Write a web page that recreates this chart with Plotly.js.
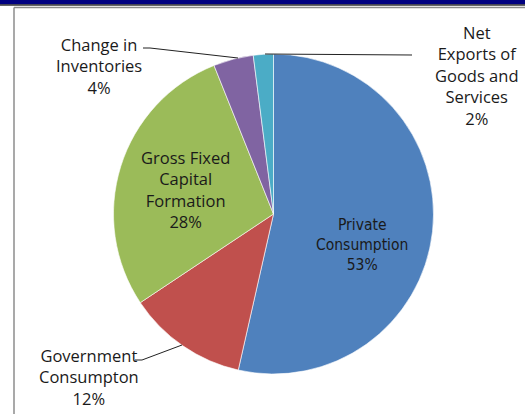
<!DOCTYPE html>
<html>
<head>
<meta charset="utf-8">
<script src="https://cdn.plot.ly/plotly-3.0.1.min.js"></script>
<style>html,body{margin:0;padding:0;background:#fff;}#chart{width:525px;height:414px;}</style>
</head>
<body>
<div id="chart"></div>
<script>
var categories = ["Private<br>Consumption", "Government<br>Consumpton", "Gross Fixed<br>Capital<br>Formation", "Change in<br>Inventories", "Net<br>Exports of<br>Goods and<br>Services"];
var shares = [53, 12, 28, 4, 2];
var colors = ["#4F81BD", "#C0504D", "#9BBB59", "#8064A2", "#4BACC6"];

var W = 525, H = 414;
function px(x){ return x / W; }
function py(y){ return 1 - y / H; }

var labelPos = [
  {x: 362, y: 245, size: 15.5, family: "DejaVu Sans Condensed, sans-serif"},
  {x: 89, y: 377, size: 16.5, family: "Open Sans, sans-serif"},
  {x: 185, y: 189, size: 16.5, family: "Open Sans, sans-serif"},
  {x: 99, y: 66, size: 16.5, family: "Open Sans, sans-serif"},
  {x: 476, y: 75, size: 16.5, family: "Open Sans, sans-serif"}
];

var annotations = categories.map(function(c, i){
  var p = labelPos[i];
  return {
    xref: "paper", yref: "paper", x: px(p.x), y: py(p.y),
    xanchor: "center", yanchor: "middle", showarrow: false, align: "center",
    text: c + "<br>" + shares[i] + "%",
    font: {family: p.family, size: p.size, color: "#1a1a1a"}
  };
});

function path(pts){
  return pts.map(function(p, i){ return (i ? "L" : "M") + px(p[0]) + "," + py(p[1]); }).join(" ");
}

var shapes = [
  {type: "rect", xref: "paper", yref: "paper", x0: 0, x1: 1, y0: py(4.5), y1: 1, fillcolor: "#000080", line: {width: 0}},
  {type: "line", xref: "paper", yref: "paper", x0: 0, x1: 1, y0: py(5), y1: py(5), line: {color: "#333333", width: 1.5}},
  {type: "line", xref: "paper", yref: "paper", x0: px(14), x1: 1, y0: py(7.5), y1: py(7.5), line: {color: "#8c8c8c", width: 1.5}},
  {type: "line", xref: "paper", yref: "paper", x0: px(14), x1: px(14), y0: py(7.5), y1: 0, line: {color: "#8c8c8c", width: 1.5}},
  {type: "path", xref: "paper", yref: "paper", path: path([[143,48],[150,48],[238,58]]), line: {color: "#222", width: 1}},
  {type: "path", xref: "paper", yref: "paper", path: path([[412,55],[265,54]]), line: {color: "#222", width: 1}},
  {type: "path", xref: "paper", yref: "paper", path: path([[135,360],[142,360],[182,345]]), line: {color: "#222", width: 1}}
];

var trace = {
  type: "pie",
  values: shares,
  labels: categories,
  marker: {colors: colors, line: {color: "#ffffff", width: 0.6}},
  sort: false,
  direction: "clockwise",
  rotation: 0,
  textinfo: "none",
  hoverinfo: "none",
  domain: {x: [px(113.5), px(433.5)], y: [py(374), py(54)]}
};

var layout = {
  width: W, height: H,
  margin: {l: 0, r: 0, t: 0, b: 0},
  paper_bgcolor: "#ffffff",
  showlegend: false,
  annotations: annotations,
  shapes: shapes
};

Plotly.newPlot("chart", [trace], layout, {displayModeBar: false, staticPlot: true});
</script>
</body>
</html>
